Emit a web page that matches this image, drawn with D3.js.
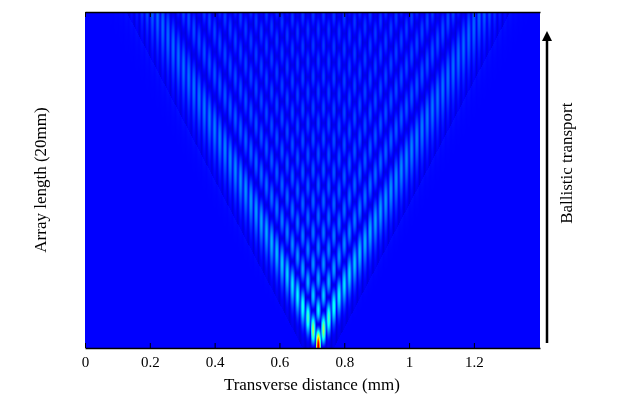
<!DOCTYPE html>
<html>
  <head>
    <meta charset="utf-8">
    <title>Ballistic transport</title>
    <script src="https://cdnjs.cloudflare.com/ajax/libs/d3/7.8.5/d3.min.js"></script>
    <style>
      body { margin: 0; background: #fff; }
      #wrap { position: relative; width: 618px; height: 404px; }
      canvas, svg { position: absolute; left: 0; top: 0; }
      text { font-family: "Liberation Serif", "Times New Roman", serif; }
    </style>
  </head>
  <body>
    <div id="wrap">
      <canvas id="map" width="618" height="404"></canvas>
      <svg width="618" height="404"></svg>
    </div>
    <script>
      // axis + array parameters
      var xTicks = [0, 0.2, 0.4, 0.6, 0.8, 1, 1.2];
      var xRange = [0, 1.404];           // mm
      var inputSite = 0.72;              // mm, excited waveguide
      var spacing = 0.016;               // mm between waveguides
      var maxArg = 34;                   // 2*C*L, coupling x full length
      var nSites = 44;                   // waveguides each side of input

      var W = 618, H = 404;
      var margin = { left: 85, right: 78, top: 12, bottom: 56 };
      var x = d3.scaleLinear().domain(xRange).range([margin.left, W - margin.right]);
      var z = d3.scaleLinear().domain([0, 1]).range([H - margin.bottom, margin.top]);

      // jet colormap
      var jet = d3.scaleLinear()
        .domain([0, 0.125, 0.375, 0.625, 0.875, 1])
        .range(["#000080", "#0000ff", "#00ffff", "#ffff00", "#ff0000", "#800000"])
        .clamp(true);

      // J_0..J_N (x) by backward recurrence
      function bessel(arg, N) {
        var out = new Array(N + 1).fill(0);
        if (arg < 1e-9) { out[0] = 1; return out; }
        var M = 2 * Math.ceil((N + arg + 40) / 2);
        var j = new Array(M + 2).fill(0);
        j[M] = 1e-30;
        for (var k = M; k >= 1; k--) {
          j[k - 1] = (2 * k / arg) * j[k] - j[k + 1];
          if (Math.abs(j[k - 1]) > 1e200) {
            for (var m = k - 1; m <= M; m++) j[m] *= 1e-200;
          }
        }
        var s = j[0];
        for (var k2 = 2; k2 <= M; k2 += 2) s += 2 * j[k2];
        for (var n = 0; n <= N; n++) out[n] = j[n] / s;
        return out;
      }

      var ctx = document.getElementById("map").getContext("2d");
      var x0 = Math.round(x(xRange[0])), x1 = Math.round(x(xRange[1]));
      var y0 = Math.round(z(1)), y1 = Math.round(z(0));
      var img = ctx.createImageData(x1 - x0, y1 - y0);
      var sigma = 0.005;
      for (var py = y0; py < y1; py++) {
        var zz = z.invert(py + 0.5);
        var arg = maxArg * zz;
        var J = bessel(arg, nSites);
        for (var px = x0; px < x1; px++) {
          var xm = x.invert(px + 0.5);
          var u = (xm - inputSite) / spacing;
          var n = Math.round(u);
          var an = Math.abs(n);
          var v = 0.125;
          if (an <= nSites) {
            var prof = Math.exp(-Math.pow((u - n) * spacing / sigma, 2) / 2);
            var amp = Math.pow(Math.abs(J[an]), 1.3);
            var inside = Math.abs(u) < arg + 3 ? 1 : 0;
            v = 0.125 + 0.85 * amp * prof - 0.045 * inside * (1 - 0.7 * prof);
          }
          var c = d3.rgb(jet(Math.min(v, 0.93)));
          var i = ((py - y0) * (x1 - x0) + (px - x0)) * 4;
          img.data[i] = c.r; img.data[i + 1] = c.g; img.data[i + 2] = c.b; img.data[i + 3] = 255;
        }
      }
      ctx.putImageData(img, x0, y0);

      var svg = d3.select("svg");
      svg.append("g")
        .attr("transform", "translate(0," + z(0) + ")")
        .call(d3.axisBottom(x).tickValues(xTicks).tickFormat(d3.format("~g")).tickSizeInner(-5).tickSizeOuter(0))
        .call(function(g) {
          g.select(".domain").attr("stroke-width", 1.5);
          g.selectAll("text").attr("dy", "1.05em").attr("font-size", 15)
            .attr("font-family", "Liberation Serif").attr("fill", "#000");
        });
      svg.append("g")
        .attr("transform", "translate(0," + z(1) + ")")
        .call(d3.axisTop(x).tickValues(xTicks).tickFormat("").tickSizeInner(-5).tickSizeOuter(0))
        .call(function(g) { g.select(".domain").attr("stroke-width", 1.5); });

      svg.append("text")
        .attr("x", x(0.7)).attr("y", 390)
        .attr("text-anchor", "middle").attr("font-size", 17)
        .text("Transverse distance (mm)");
      svg.append("text")
        .attr("transform", "translate(46," + z(0.5) + ") rotate(-90)")
        .attr("text-anchor", "middle").attr("font-size", 17)
        .text("Array length (20mm)");

      svg.append("defs").append("marker")
        .attr("id", "head").attr("viewBox", "0 0 10 10").attr("refX", 5).attr("refY", 5)
        .attr("markerWidth", 4).attr("markerHeight", 4).attr("orient", "auto")
        .append("path").attr("d", "M0,0L10,5L0,10Z").attr("fill", "#000");
      svg.append("line")
        .attr("x1", 547).attr("x2", 547).attr("y1", z(0) - 5).attr("y2", 36)
        .attr("stroke", "#000").attr("stroke-width", 2.5).attr("marker-end", "url(#head)");
      svg.append("text")
        .attr("transform", "translate(572," + z(0.55) + ") rotate(-90)")
        .attr("text-anchor", "middle").attr("font-size", 17)
        .text("Ballistic transport");
    </script>
  </body>
</html>
